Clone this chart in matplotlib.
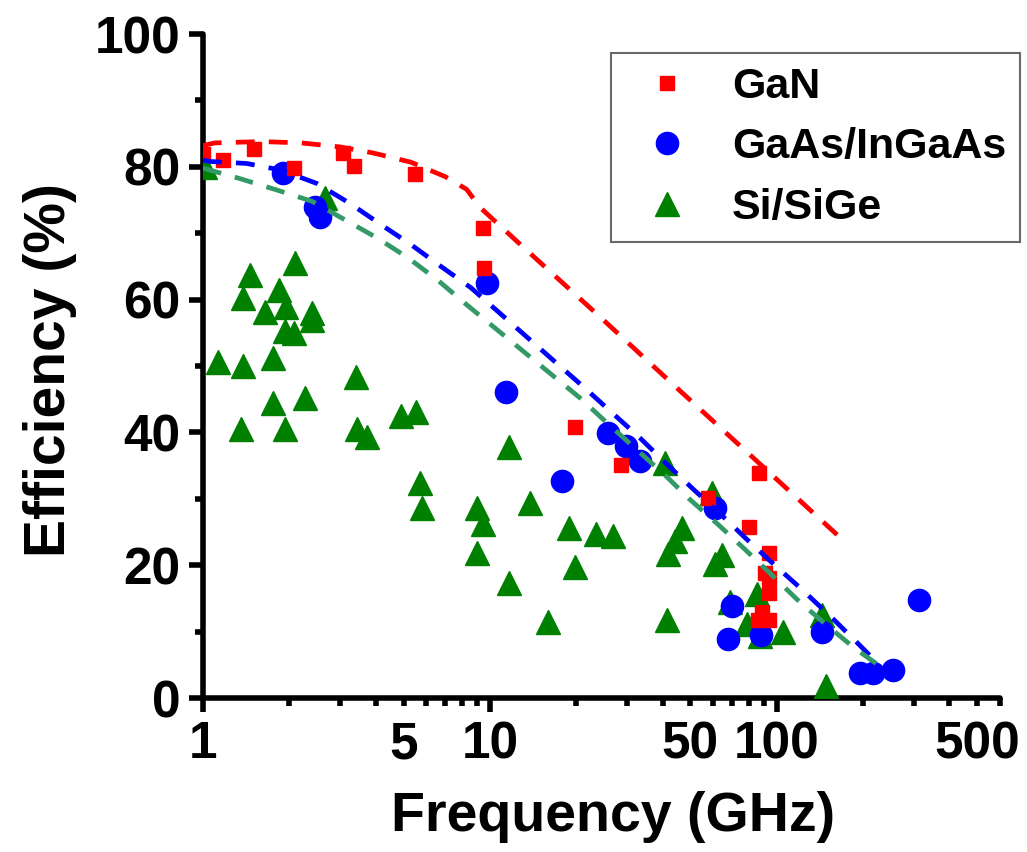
import matplotlib
matplotlib.use("Agg")
import matplotlib.pyplot as plt
from matplotlib.ticker import FixedLocator, FuncFormatter
from matplotlib.lines import Line2D

plt.rcParams['font.family'] = ['Liberation Sans', 'DejaVu Sans']
plt.rcParams['font.weight'] = 'bold'

# ---- data ----
gan_f = [1.0, 1.17, 1.50, 2.07, 3.08, 3.36, 5.47, 9.46, 9.52, 19.8, 28.6, 57.5,
         79.9, 86.5, 93.8, 90.8, 93.8, 93.8, 88.6, 85.9, 93.8]
gan_e = [82.0, 81.0, 82.7, 79.8, 82.1, 80.1, 78.9, 70.8, 64.8, 40.8, 35.1, 30.1,
         25.8, 33.9, 21.8, 18.8, 18.0, 15.8, 13.0, 11.7, 11.7]

gaas_f = [1.90, 2.46, 2.56, 9.8, 11.4, 17.8, 25.8, 29.9, 33.3, 60.8, 69.6, 67.4,
          88.4, 143.5, 194.5, 216, 254, 312]
gaas_e = [79.0, 74.0, 72.4, 62.5, 46.1, 32.7, 39.9, 38.0, 35.7, 28.6, 13.9, 8.9,
          9.5, 9.9, 3.8, 3.8, 4.2, 14.8]

si_f = [1.02, 2.66, 2.09, 1.46, 1.84, 1.38, 1.95, 1.64, 2.40, 2.40, 1.93, 2.07,
        1.13, 1.38, 1.75, 3.41, 1.75, 2.27, 1.36, 1.93, 3.44, 3.73, 4.89, 5.53,
        11.66, 5.70, 5.80, 9.0, 9.46, 9.0, 13.8, 11.66, 16.0, 18.8, 19.8, 23.4,
        26.8, 40.7, 46.6, 44.1, 41.7, 41.4, 59.7, 64.3, 60.8, 68.6, 85.0, 78.6,
        87.1, 104.8, 143.5, 148]
si_e = [80.0, 75.3, 65.5, 63.7, 61.4, 60.2, 58.9, 58.1, 58.0, 56.9, 55.3, 55.0,
        50.6, 50.0, 51.2, 48.3, 44.4, 45.2, 40.5, 40.5, 40.5, 39.3, 42.5, 43.1,
        37.8, 32.4, 28.6, 28.6, 26.2, 21.8, 29.4, 17.3, 11.4, 25.6, 19.7, 24.7,
        24.4, 35.4, 25.6, 23.6, 21.7, 11.7, 30.9, 21.5, 20.2, 14.5, 15.7, 11.1,
        9.3, 9.9, 12.5, 1.8]

# model curves
gan_fit_f = [1.0, 1.1, 1.6, 2.2, 3.0, 3.9, 5.3, 7.0, 8.3, 9.23, 12.7, 24.2,
             45.9, 87.1, 166]
gan_fit_e = [83.2, 83.6, 83.8, 83.6, 83.0, 82.1, 80.7, 78.5, 76.6, 73.9, 68.4,
             57.4, 46.3, 35.3, 24.2]

gaas_fit_f = [1.0, 1.06, 1.42, 1.87, 2.49, 3.25, 4.17, 5.3, 6.75, 8.58, 21.4,
              26.6, 33.3, 41.4, 51, 63.3, 78.6, 98.4, 122, 153, 188, 225]
gaas_fit_e = [81.0, 80.8, 80.5, 79.5, 77.5, 74.5, 71.3, 68.3, 65.0, 61.8, 46.7,
              43.0, 39.2, 35.2, 31.5, 27.8, 23.9, 20.0, 16.4, 12.4, 8.6, 5.2]

si_fit_f = [1.0, 1.35, 1.81, 2.40, 3.13, 4.04, 5.18, 6.59, 8.26, 20.6, 25.8,
            32.3, 40.7, 49.8, 62.2, 77.4, 96.2, 120, 150, 188, 229]
si_fit_e = [79.8, 78.2, 76.5, 74.8, 72.0, 69.3, 66.3, 62.9, 59.3, 45.2, 41.3,
            37.5, 33.6, 29.9, 26.2, 22.4, 18.5, 14.5, 10.9, 7.4, 4.8]

labels = ['GaN', 'GaAs/InGaAs', 'Si/SiGe']
x_major = [1, 10, 100]
x_minor = [2, 3, 4, 5, 6, 7, 8, 9, 20, 30, 40, 50, 60, 70, 80, 90,
           200, 300, 400, 500, 600]
x_minor_labeled = [5, 50, 500]
y_major = [0, 20, 40, 60, 80, 100]
y_minor = [10, 30, 50, 70, 90]

RED = '#ff0000'
BLUE = '#0000ff'
GREEN = '#008000'
TEAL = '#339966'

fig = plt.figure(figsize=(10.27, 8.52), dpi=100)
ax = fig.add_axes([203 / 1027, 1 - 698 / 852, 797 / 1027, 664 / 852])

ax.plot(si_f, si_e, linestyle='none', marker='^', ms=17, color=GREEN, zorder=3)
ax.plot(gaas_f, gaas_e, linestyle='none', marker='o', ms=16, color=BLUE, zorder=4)
ax.plot(gan_f, gan_e, linestyle='none', marker='s', ms=10, color=RED, zorder=5)

lw = 3.4
ax.plot(gan_fit_f, gan_fit_e, color=RED, lw=lw, dashes=(4, 3), zorder=6)
ax.plot(gaas_fit_f, gaas_fit_e, color=BLUE, lw=lw, dashes=(4, 3), zorder=6)
ax.plot(si_fit_f, si_fit_e, color=TEAL, lw=lw, dashes=(4, 3), zorder=6)

ax.set_xscale('log')
ax.set_xlim(1, 600)
ax.set_ylim(0, 100)

ax.xaxis.set_major_locator(FixedLocator(x_major))
ax.xaxis.set_minor_locator(FixedLocator(x_minor))
ax.xaxis.set_major_formatter(FuncFormatter(lambda v, p: f"{v:g}"))
ax.xaxis.set_minor_formatter(FuncFormatter(
    lambda v, p: f"{v:g}" if any(abs(v - m) < 1e-6 for m in x_minor_labeled) else ""))
ax.yaxis.set_major_locator(FixedLocator(y_major))
ax.yaxis.set_minor_locator(FixedLocator(y_minor))

for s in ['top', 'right']:
    ax.spines[s].set_visible(False)
for s in ['left', 'bottom']:
    ax.spines[s].set_linewidth(4.0)
    ax.spines[s].set_capstyle('round')

ax.tick_params(axis='both', which='major', direction='out', length=10, width=4,
               labelsize=37, pad=6)
ax.tick_params(axis='both', which='minor', direction='out', length=6, width=4,
               labelsize=37, pad=10)
for lab in ax.get_xticklabels() + ax.get_yticklabels() + ax.get_xticklabels(minor=True):
    lab.set_fontweight('bold')

ax.set_xlabel('Frequency (GHz)', fontsize=40, fontweight='bold')
ax.set_ylabel('Efficiency (%)', fontsize=41, fontweight='bold')
ax.xaxis.set_label_coords(0.514, -0.14)
ax.yaxis.set_label_coords(-0.158, 0.494)

handles = [
    Line2D([], [], linestyle='none', marker='s', ms=10, color=RED),
    Line2D([], [], linestyle='none', marker='o', ms=16, color=BLUE),
    Line2D([], [], linestyle='none', marker='^', ms=17, color=GREEN),
]
leg = fig.legend(handles, labels, loc='upper right',
                 bbox_to_anchor=(1020 / 1027, 1 - 53 / 852),
                 bbox_transform=fig.transFigure, borderaxespad=0,
                 prop={'size': 31, 'weight': 'bold'}, frameon=True,
                 fancybox=False, edgecolor='#444444', numpoints=1,
                 handlelength=2.0, handletextpad=0.5, borderpad=0.32,
                 labelspacing=0.48)
leg.get_frame().set_linewidth(1.5)

fig.savefig('out.png', dpi=100)
